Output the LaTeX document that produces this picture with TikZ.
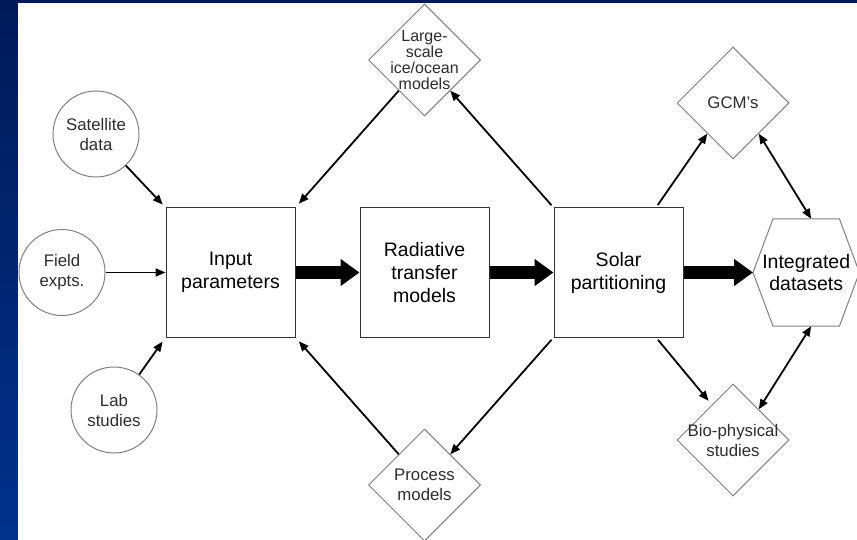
\documentclass[tikz,border=0pt]{standalone}
\usepackage{fontspec}
\setmainfont{Liberation Sans}
\usepackage{tikz}
\usetikzlibrary{arrows.meta, positioning, shapes.geometric, calc}
\usepackage{xcolor}
\definecolor{navytop}{RGB}{0,26,88}
\definecolor{navybot}{RGB}{0,50,140}
\definecolor{rimgray}{RGB}{128,128,128}
\definecolor{txtgray}{RGB}{45,45,45}
\newcommand\tightlines{\lineskiplimit=-20pt\relax}

\begin{document}
\begin{tikzpicture}[
    x=1pt, y=-1pt,
    box/.style={
        draw=black!80, line width=1pt, rectangle, align=center,
        minimum size=129pt, inner sep=0pt,
        font=\fontsize{19.5}{23}\selectfont
    },
    src/.style={
        draw=rimgray, line width=1pt, circle, align=center,
        minimum size=86pt, inner sep=0pt, text=txtgray,
        font=\fontsize{16.8}{20}\selectfont
    },
    model/.style={
        draw=rimgray, line width=1pt, diamond, align=center,
        minimum size=112pt, inner sep=-6pt, text=txtgray,
        font=\fontsize{16.8}{20}\selectfont
    },
    hexa/.style={
        rectangle, align=center, minimum width=106pt,
        minimum height=107pt, inner sep=0pt,
        font=\fontsize{19.5}{22}\selectfont
    },
    link/.style={-{Triangle[length=10pt,width=8pt]}, line width=1.8pt},
    twoway/.style={{Triangle[length=10pt,width=8pt]}-{Triangle[length=10pt,width=8pt]}, line width=1.8pt},
    fat/.style={-{Triangle[length=19pt,width=26pt]}, line width=13pt}
]
    % slide background
    \useasboundingbox (0,0) rectangle (857,540);
    \shade[top color=navytop, bottom color=navybot] (0,0) rectangle (857,540);
    \fill[white] (18,3) rectangle (857,540);

    % main chain
    \node[box] (In) at (230.5,272.5) {Input\\parameters};
    \node[box] (RT) [right=64pt of In] {Radiative\\transfer\\models};
    \node[box] (Sol) [right=64pt of RT] {Solar\\partitioning};
    \node[hexa] (Int) [right=69.5pt of Sol] {Integrated\\datasets};
    \draw[draw=rimgray, line width=1pt] (Int.west) -- ($(Int.north west)+(20,0)$)
        -- ($(Int.north east)+(-20,0)$) -- (Int.east)
        -- ($(Int.south east)+(-20,0)$) -- ($(Int.south west)+(20,0)$) -- cycle;

    % sources
    \node[src] (Sat) at (96,134) {Satellite\\data};
    \node[src] (Field) at (62,272.5) {Field\\expts.};
    \node[src] (Lab) at (114,410) {Lab\\studies};

    % models
    \node[model, font=\fontsize{16}{16}\selectfont, execute at begin node=\tightlines] (Ice) [above=91pt of RT] {Large-\\scale\\ice/ocean\\models};
    \node[model] (Proc) [below=91pt of RT] {Process\\models};
    \node[model] (GCM) at (733,103) {GCM's};
    \node[model] (Bio) at (733,440) {Bio-physical\\studies};

    \draw[fat] (In) -- (RT);
    \draw[fat] (RT) -- (Sol);
    \draw[fat] (Sol.east) -- (Int.west);

    \draw[link, shorten >=4pt] (Sat) -- (In.north west);
    \draw[link] (Field) -- (In);
    \draw[link, shorten >=5pt] (Lab) -- (In.south west);
    \draw[link, shorten >=5pt] (Ice.230) -- (In.north east);
    \draw[link, shorten >=5pt] (Proc.130) -- (In.south east);
    \draw[link, shorten <=3pt] (Sol.north west) -- (Ice.-50);
    \draw[link, shorten <=3pt] (Sol.south west) -- (Proc.50);
    \draw[link, shorten <=3pt] (Sol.60) -- (GCM.230);
    \draw[link, shorten <=3pt, shorten >=5pt] (Sol.-60) -- (Bio.121);
    \draw[twoway] (GCM.-50) -- ($(Int.north)+(5,0)$);
    \draw[twoway] (Bio.50) -- ($(Int.south)+(5,0)$);
\end{tikzpicture}
\end{document}
